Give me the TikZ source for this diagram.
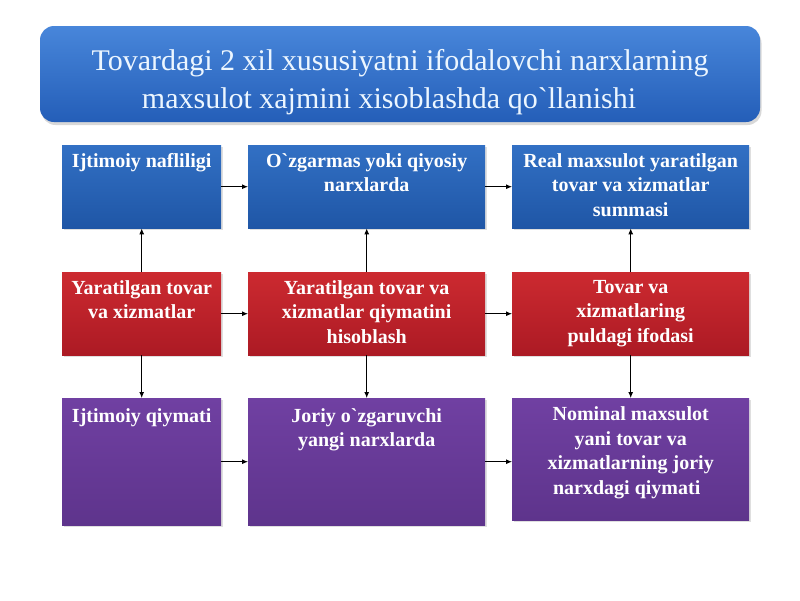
\documentclass[tikz,border=0pt]{standalone}
\usepackage{fontspec}
\newfontfamily\uzf{Liberation Serif}
\usetikzlibrary{shadows,arrows.meta}
\definecolor{blueT}{RGB}{50,112,196}
\definecolor{blueB}{RGB}{31,86,166}
\definecolor{redT}{RGB}{204,42,48}
\definecolor{redB}{RGB}{172,26,36}
\definecolor{purT}{RGB}{112,64,162}
\definecolor{purB}{RGB}{94,52,140}
\definecolor{titT}{RGB}{72,134,218}
\definecolor{titB}{RGB}{36,94,184}
\definecolor{titTx}{RGB}{236,246,255}
\begin{document}
\begin{tikzpicture}[x=1pt,y=-1pt,
  box/.style={draw=none, anchor=north west, inner sep=0pt,
    drop shadow={shadow xshift=1.5pt, shadow yshift=-2pt, opacity=0.25}},
  bluebox/.style={box, top color=blueT, bottom color=blueB},
  redbox/.style={box, top color=redT, bottom color=redB},
  purbox/.style={box, top color=purT, bottom color=purB},
  narrow/.style={minimum width=159pt},
  wide/.style={minimum width=237pt},
  btext/.style={anchor=north, inner sep=0pt, align=center, text=white,
    font=\uzf\bfseries\fontsize{20}{24.5}\selectfont},
  arr/.style={-{Latex[length=6pt,width=5pt]}, line width=0.9pt, black}
]
\useasboundingbox (0,0) rectangle (800,600);
\fill[white] (0,0) rectangle (800,600);

% title
\node[draw=none, rounded corners=14pt, minimum width=720pt, minimum height=96pt,
  top color=titT, bottom color=titB,
  drop shadow={shadow xshift=1.5pt, shadow yshift=-3pt, opacity=0.3}]
  (title) at (400,74) {};
\node[align=center, text=titTx, inner sep=0pt,
  font=\uzf\fontsize{30}{38}\selectfont] (titletext) at (400,82)
  {Tovardagi 2 xil xususiyatni ifodalovchi narxlarning\\
   maxsulot xajmini xisoblashda qo`llanishi\hspace*{22pt}};

% row 1
\node[bluebox, narrow, minimum height=83pt] (A1) at (62,145) {};
\node[bluebox, wide, minimum height=83pt] (B1) at (248,145) {};
\node[bluebox, wide, minimum height=83pt] (C1) at (512,145) {};
% row 2
\node[redbox, narrow, minimum height=83pt] (A2) at (62,272) {};
\node[redbox, wide, minimum height=83pt] (B2) at (248,272) {};
\node[redbox, wide, minimum height=83pt] (C2) at (512,272) {};
% row 3
\node[purbox, narrow, minimum height=127pt] (A3) at (62,398) {};
\node[purbox, wide, minimum height=127pt] (B3) at (248,398) {};
\node[purbox, wide, minimum height=122pt] (C3) at (512,398) {};

% texts
\node[btext] (tA1) at ([yshift=-8pt]A1.north) {Ijtimoiy nafliligi};
\node[btext] (tB1) at ([yshift=-8pt]B1.north) {O`zgarmas yoki qiyosiy\\narxlarda};
\node[btext] (tC1) at ([yshift=-8pt]C1.north) {Real maxsulot yaratilgan\\tovar va xizmatlar\\summasi};
\node[btext] (tA2) at ([yshift=-8pt]A2.north) {Yaratilgan tovar\\va xizmatlar};
\node[btext] (tB2) at ([yshift=-8pt]B2.north) {Yaratilgan tovar va\\xizmatlar qiymatini\\hisoblash};
\node[btext] (tC2) at ([yshift=-8pt]C2.north) {Tovar va\\xizmatlaring\\puldagi ifodasi};
\node[btext] (tA3) at ([yshift=-10pt]A3.north) {Ijtimoiy qiymati};
\node[btext] (tB3) at ([yshift=-10pt]B3.north) {Joriy o`zgaruvchi\\yangi narxlarda};
\node[btext] (tC3) at ([yshift=-8.5pt]C3.north) {Nominal maxsulot\\yani tovar va\\xizmatlarning joriy\\narxdagi qiymati\hspace*{8pt}};

% horizontal arrows
\draw[arr] (A1.east) -- (B1.west);
\draw[arr] (B1.east) -- (C1.west);
\draw[arr] (A2.east) -- (B2.west);
\draw[arr] (B2.east) -- (C2.west);
\draw[arr] (A3.east) -- (B3.west);
\draw[arr] (B3.east) -- (B3.east -| C3.west);
% vertical arrows
\draw[arr] (A2.north) -- (A1.south);
\draw[arr] (B2.north) -- (B1.south);
\draw[arr] (C2.north) -- (C1.south);
\draw[arr] (A2.south) -- (A3.north);
\draw[arr] (B2.south) -- (B3.north);
\draw[arr] (C2.south) -- (C3.north);
\end{tikzpicture}
\end{document}
